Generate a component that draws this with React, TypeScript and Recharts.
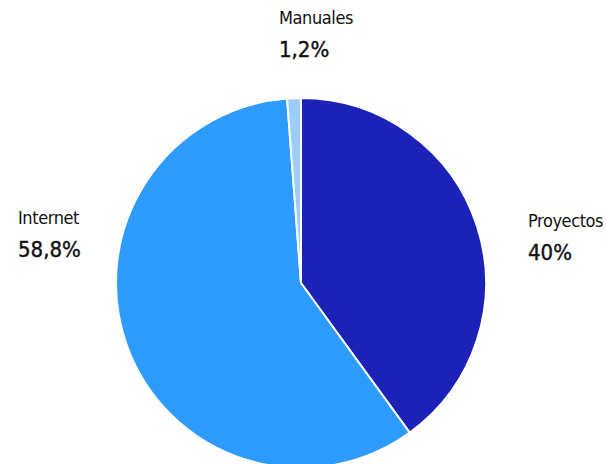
import { Cell, Pie, PieChart } from "recharts";

const categories = ["Proyectos", "Internet", "Manuales"];
const values = [40, 58.8, 1.2];
const valueLabels = ["40%", "58,8%", "1,2%"];
const colors = ["#1c21b8", "#2e9bff", "#9dcdfa"];

const data = categories.map((name, i) => ({ name, value: values[i], label: valueLabels[i] }));

const FONT = "'DejaVu Sans Condensed', 'Liberation Sans Narrow', sans-serif";

function renderLabel(p: any) {
  const { cx, cy, outerRadius, midAngle, index } = p;
  const c = Math.cos((midAngle * Math.PI) / 180);
  let x: number;
  let y: number;
  if (Math.abs(c) < 0.2) {
    // top slice: label above the pie
    x = cx - 22;
    y = cy - outerRadius - 74;
  } else if (c > 0) {
    x = cx + outerRadius + 42;
    y = cy - 56;
  } else {
    x = cx - outerRadius - 98;
    y = cy - 59;
  }
  return (
    <g>
      <text x={x} y={y} fill="#111" fontSize={18} letterSpacing={-0.4} fontFamily={FONT} textAnchor="start">
        {categories[index]}
      </text>
      <text x={x} y={y + 33} fill="#111" fontSize={22} fontFamily={FONT} textAnchor="start" stroke="#111" strokeWidth={0.4}>
        {valueLabels[index]}
      </text>
    </g>
  );
}

export default function App() {
  return (
    <div style={{ position: "absolute", left: 0, top: 0, width: 606, height: 464, background: "#fff" }}>
      <PieChart width={606} height={464} margin={{ top: 0, right: 0, bottom: 0, left: 0 }}>
        <Pie
          data={data}
          dataKey="value"
          nameKey="name"
          cx={301}
          cy={283}
          outerRadius={185}
          startAngle={90}
          endAngle={-270}
          stroke="#fff"
          strokeWidth={2}
          label={renderLabel}
          labelLine={false}
          isAnimationActive={false}
        >
          {data.map((_, i) => (
            <Cell key={i} fill={colors[i]} />
          ))}
        </Pie>
      </PieChart>
    </div>
  );
}
